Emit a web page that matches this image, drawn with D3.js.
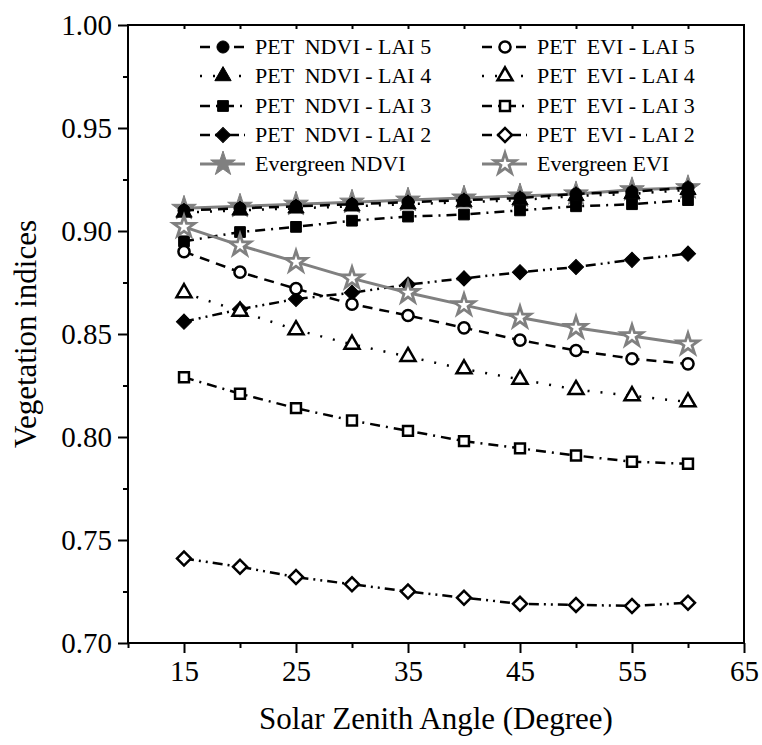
<!DOCTYPE html>
<html lang="en">
<head>
<meta charset="UTF-8">
<title>Vegetation indices vs solar zenith angle</title>
<script src="https://cdn.jsdelivr.net/npm/d3@7"></script>
<style>
    body { margin: 0; padding: 0; background: #fff; overflow: hidden; }
    svg { display: block; }
    text { font-family: "Liberation Serif", "Times New Roman", serif; fill: #000; }
</style>
</head>
<body>
<svg id="chart" width="762" height="745"></svg>
<script>
// data
var angles = [15, 20, 25, 30, 35, 40, 45, 50, 55, 60];

var ndviLai5 = [0.910, 0.911, 0.912, 0.913, 0.914, 0.915, 0.916, 0.918, 0.919, 0.921];
var ndviLai4 = [0.909, 0.910, 0.911, 0.912, 0.913, 0.914, 0.915, 0.917, 0.918, 0.920];
var ndviLai3 = [0.895, 0.8995, 0.902, 0.905, 0.907, 0.908, 0.910, 0.912, 0.913, 0.915];
var ndviLai2 = [0.856, 0.862, 0.867, 0.870, 0.874, 0.877, 0.880, 0.8825, 0.886, 0.889];
var evergreenNdvi = [0.911, 0.912, 0.913, 0.914, 0.915, 0.916, 0.917, 0.918, 0.920, 0.921];

var eviLai5 = [0.890, 0.880, 0.872, 0.8645, 0.859, 0.853, 0.847, 0.842, 0.838, 0.8355];
var eviLai4 = [0.870, 0.861, 0.852, 0.845, 0.839, 0.833, 0.828, 0.823, 0.820, 0.817];
var eviLai3 = [0.829, 0.821, 0.814, 0.808, 0.803, 0.798, 0.7945, 0.791, 0.788, 0.787];
var eviLai2 = [0.741, 0.737, 0.732, 0.7285, 0.725, 0.722, 0.719, 0.7185, 0.718, 0.7195];
var evergreenEvi = [0.902, 0.893, 0.885, 0.877, 0.870, 0.864, 0.858, 0.853, 0.849, 0.845];

var xMajorTicks = [15, 25, 35, 45, 55, 65];
var xMinorTicks = [10, 20, 30, 40, 50, 60];
var yMajorTicks = [0.70, 0.75, 0.80, 0.85, 0.90, 0.95, 1.00];
var yMinorTicks = [0.725, 0.775, 0.825, 0.875, 0.925, 0.975];

var svg = d3.select("#chart");
var plotL = 128, plotR = 744, plotT = 25, plotB = 643;

var x = d3.scaleLinear().domain([10, 65]).range([plotL, plotR]);
var y = d3.scaleLinear().domain([0.70, 1.00]).range([plotB, plotT]);

var gray = "#808080";
var dashStyles = {
    dash: "10,7",
    dot: "2,11",
    dashDot: "10,6,2,6",
    dashDotDot: "10,5,2,5,2,5",
    solid: null
};

// one entry per series, in drawing order
var series = [
    {name: "Evergreen NDVI", values: evergreenNdvi, shape: "star", filled: true, color: gray, dash: "solid", col: 0, row: 4},
    {name: "PET  NDVI - LAI 5", values: ndviLai5, shape: "circle", filled: true, color: "#000", dash: "dash", col: 0, row: 0},
    {name: "PET  NDVI - LAI 4", values: ndviLai4, shape: "triangle", filled: true, color: "#000", dash: "dot", col: 0, row: 1},
    {name: "PET  NDVI - LAI 3", values: ndviLai3, shape: "square", filled: true, color: "#000", dash: "dashDot", col: 0, row: 2},
    {name: "PET  NDVI - LAI 2", values: ndviLai2, shape: "diamond", filled: true, color: "#000", dash: "dashDotDot", col: 0, row: 3},
    {name: "PET  EVI - LAI 5", values: eviLai5, shape: "circle", filled: false, color: "#000", dash: "dash", col: 1, row: 0},
    {name: "PET  EVI - LAI 4", values: eviLai4, shape: "triangle", filled: false, color: "#000", dash: "dot", col: 1, row: 1},
    {name: "PET  EVI - LAI 3", values: eviLai3, shape: "square", filled: false, color: "#000", dash: "dashDot", col: 1, row: 2},
    {name: "PET  EVI - LAI 2", values: eviLai2, shape: "diamond", filled: false, color: "#000", dash: "dashDotDot", col: 1, row: 3},
    {name: "Evergreen EVI", values: evergreenEvi, shape: "star", filled: false, color: gray, dash: "solid", col: 1, row: 4}
];

function symbolPath(shape, filled) {
    var s = filled ? 1 : 0.85;
    if (shape == "circle") return d3.symbol(d3.symbolCircle, 115 * s)();
    if (shape == "triangle") return d3.symbol(d3.symbolTriangle, 115 * s)();
    if (shape == "square") return d3.symbol(d3.symbolSquare, 115 * s)();
    if (shape == "diamond") return d3.symbol(d3.symbolSquare, 115 * s)();
    if (shape == "star") return d3.symbol(d3.symbolStar, filled ? 190 : 140)();
}

function drawMarker(g, d, cx, cy) {
    var grey = d.color == gray;
    g.append("path")
        .attr("d", symbolPath(d.shape, d.filled))
        .attr("transform", "translate(" + cx + "," + cy + ")" + (d.shape == "diamond" ? " rotate(45)" : ""))
        .attr("fill", d.filled ? d.color : "#fff")
        .attr("stroke", d.color)
        .attr("stroke-width", d.filled ? 1 : (grey ? 2.8 : 2.5))
        .attr("stroke-linejoin", "miter");
}

var line = d3.line()
    .x((d, i) => x(angles[i]))
    .y(d => y(d));

var plot = svg.append("g");
series.forEach(s => {
    plot.append("path")
        .attr("d", line(s.values))
        .attr("fill", "none")
        .attr("stroke", s.color)
        .attr("stroke-width", s.color == gray ? 3 : 2.5)
        .attr("stroke-dasharray", dashStyles[s.dash]);
    s.values.forEach((v, i) => drawMarker(plot, s, x(angles[i]), y(v)));
});

// axes
function styleAxis(g) {
    g.select(".domain").remove();
    g.selectAll("line").attr("stroke", "#000").attr("stroke-width", 2);
    g.selectAll("text").style("font-family", "'Liberation Serif', serif").style("font-size", "29px");
}

svg.append("g").attr("transform", "translate(0," + plotB + ")")
    .call(d3.axisBottom(x).tickValues(xMinorTicks).tickSize(5).tickFormat(""))
    .call(styleAxis);
svg.append("g").attr("transform", "translate(0," + plotB + ")")
    .call(d3.axisBottom(x).tickValues(xMajorTicks).tickSize(10).tickPadding(7).tickFormat(d3.format("d")))
    .call(styleAxis);
svg.append("g").attr("transform", "translate(0," + plotT + ")")
    .call(d3.axisBottom(x).tickValues(d3.range(15, 65, 5)).tickSize(4).tickFormat(""))
    .call(styleAxis);
svg.append("g").attr("transform", "translate(" + plotL + ",0)")
    .call(d3.axisLeft(y).tickValues(yMinorTicks).tickSize(5).tickFormat(""))
    .call(styleAxis);
svg.append("g").attr("transform", "translate(" + plotL + ",0)")
    .call(d3.axisLeft(y).tickValues(yMajorTicks).tickSize(10).tickPadding(6).tickFormat(d3.format(".2f")))
    .call(styleAxis);

svg.append("rect")
    .attr("x", plotL).attr("y", plotT)
    .attr("width", plotR - plotL).attr("height", plotB - plotT)
    .attr("fill", "none").attr("stroke", "#000").attr("stroke-width", 2);

svg.append("text")
    .attr("x", (plotL + plotR) / 2).attr("y", 729)
    .attr("text-anchor", "middle")
    .style("font-size", "31px")
    .text("Solar Zenith Angle (Degree)");

svg.append("text")
    .attr("transform", "translate(36," + (plotT + plotB) / 2 + ") rotate(-90)")
    .attr("text-anchor", "middle")
    .style("font-size", "31px")
    .text("Vegetation indices");

// legend
var legendRowY = [47, 76, 106, 135, 164];
var legendColX = [200, 482];
var legend = svg.append("g");
series.forEach(s => {
    var lx = legendColX[s.col], ly = legendRowY[s.row];
    legend.append("line")
        .attr("x1", lx).attr("x2", lx + 45)
        .attr("y1", ly).attr("y2", ly)
        .attr("stroke", s.color)
        .attr("stroke-width", s.color == gray ? 3 : 2.5)
        .attr("stroke-dasharray", dashStyles[s.dash]);
    drawMarker(legend, s, lx + 23, ly);
    legend.append("text")
        .attr("x", lx + 55).attr("y", ly + 7)
        .style("font-size", "22px")
        .style("white-space", "pre")
        .text(s.name);
});
</script>
</body>
</html>
